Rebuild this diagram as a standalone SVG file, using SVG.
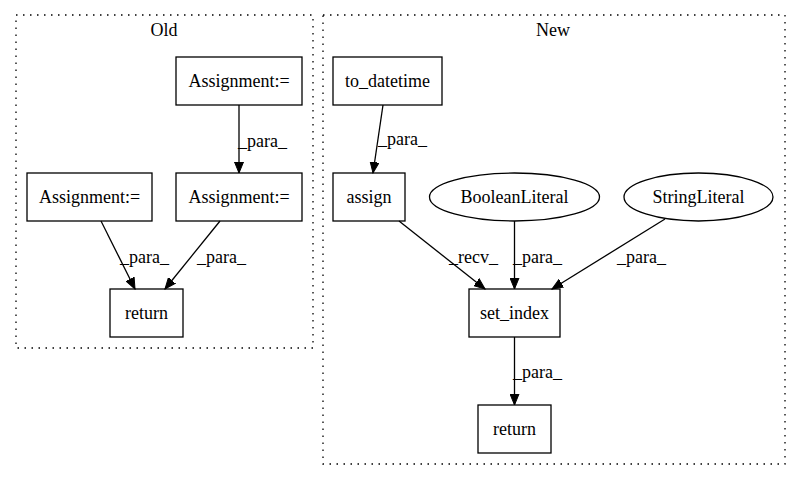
<svg xmlns="http://www.w3.org/2000/svg" width="800" height="480" viewBox="0 0 800 480">
<style>
text{font-family:"Liberation Serif","Times New Roman",serif;font-size:18px;fill:#000}
.n{fill:none;stroke:#000;stroke-width:1.3}
.c{fill:none;stroke:#000;stroke-width:1.3;stroke-dasharray:1.5,5.5}
.e{fill:none;stroke:#000;stroke-width:1.3;marker-end:url(#ah)}
.m{text-anchor:middle}
</style>
<defs>
<marker id="ah" markerUnits="userSpaceOnUse" markerWidth="12" markerHeight="10" viewBox="0 -5 12 10" refX="11" refY="0" orient="auto">
<path d="M0,-4.5 L11,0 L0,4.5 z" fill="#000" stroke="#000" stroke-width="1"/>
</marker>
</defs>
<rect width="800" height="480" fill="#fff"/>
<g id="cluster_old">
<rect class="c" x="16" y="15" width="297" height="333"/>
<text class="m" x="164" y="36">Old</text>
</g>
<g id="cluster_new">
<rect class="c" x="323" y="15" width="462" height="449"/>
<text class="m" x="553" y="36">New</text>
</g>
<g id="connectors">
<path class="e" d="M239,105 L239,173"/>
<text x="238" y="147">_para_</text>
<path class="e" d="M101,221 L135,289"/>
<text x="120" y="263">_para_</text>
<path class="e" d="M220,221 L165,289"/>
<text x="197" y="263">_para_</text>
<path class="e" d="M383,105 L373,173"/>
<text x="378" y="145">_para_</text>
<path class="e" d="M399,221 L485,289"/>
<text x="449" y="263">_recv_</text>
<path class="e" d="M514.5,221 L514.5,289"/>
<text x="513" y="263">_para_</text>
<path class="e" d="M665,219 L552,289"/>
<text x="617" y="263">_para_</text>
<path class="e" d="M514.5,337 L514.5,405"/>
<text x="513" y="378">_para_</text>
</g>
<g id="old_assign1">
<rect class="n" x="176" y="57" width="126" height="48"/>
<text class="m" x="239" y="87">Assignment:=</text>
</g>
<g id="old_assign2">
<rect class="n" x="176" y="173" width="126" height="48"/>
<text class="m" x="239" y="203">Assignment:=</text>
</g>
<g id="old_assign3">
<rect class="n" x="27" y="173" width="125" height="48"/>
<text class="m" x="89.5" y="203">Assignment:=</text>
</g>
<g id="old_return">
<rect class="n" x="110" y="289" width="73" height="48"/>
<text class="m" x="146.5" y="319">return</text>
</g>
<g id="new_to_datetime">
<rect class="n" x="333" y="57" width="109" height="48"/>
<text class="m" x="387.5" y="87">to_datetime</text>
</g>
<g id="new_assign">
<rect class="n" x="333" y="173" width="72" height="48"/>
<text class="m" x="369" y="203">assign</text>
</g>
<g id="new_boolean">
<ellipse class="n" cx="514.5" cy="197" rx="85" ry="24"/>
<text class="m" x="514.5" y="203">BooleanLiteral</text>
</g>
<g id="new_string">
<ellipse class="n" cx="698.5" cy="197" rx="74.5" ry="24"/>
<text class="m" x="698.5" y="203">StringLiteral</text>
</g>
<g id="new_set_index">
<rect class="n" x="469" y="289" width="91" height="48"/>
<text class="m" x="514.5" y="319">set_index</text>
</g>
<g id="new_return">
<rect class="n" x="478" y="405" width="73" height="48"/>
<text class="m" x="514.5" y="435">return</text>
</g>
</svg>
